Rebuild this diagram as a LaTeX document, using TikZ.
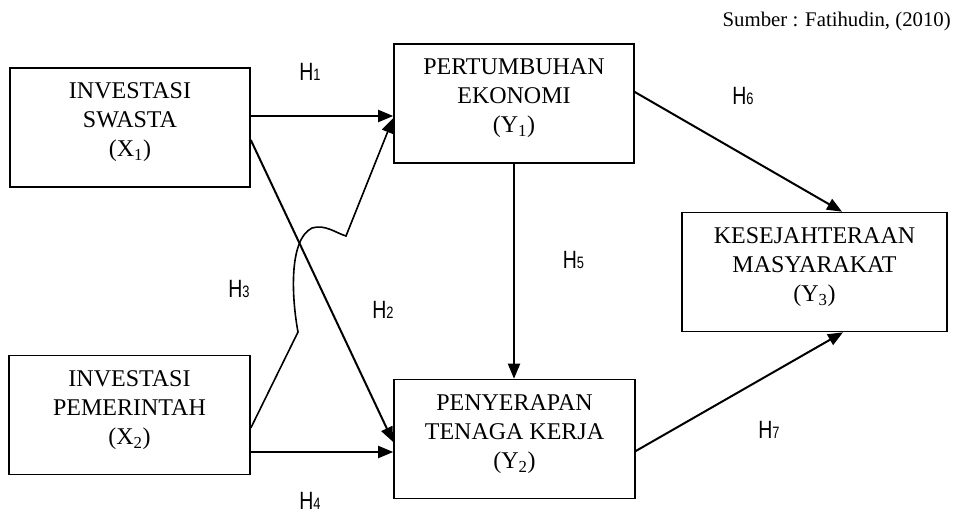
\documentclass[tikz,border=0pt]{standalone}
\usepackage{fontspec}
\usepackage{graphicx}
\setmainfont{Liberation Serif}
\newfontfamily\arialfont{Liberation Sans}
\usetikzlibrary{arrows.meta}
\newcommand\hlab[1]{\scalebox{0.78}[1]{\arialfont\fontsize{25}{25}\selectfont H{\fontsize{16.5}{16.5}\selectfont #1}}}
\tikzset{
  boxnode/.style={draw=black, line width=1.6pt, minimum width=#1, minimum height=119pt, inner sep=0pt},
  boxtext/.style={align=center, inner sep=0pt, font=\fontsize{24}{29}\selectfont},
  hnode/.style={inner sep=0pt},
  arr/.style={line width=2pt, -{Triangle[length=15pt,width=12pt]}},
  arrthin/.style={line width=1.6pt, -{Triangle[length=15pt,width=12pt]}}
}
\begin{document}
\begin{tikzpicture}[x=1pt,y=-1pt]
\useasboundingbox (0,0) rectangle (960,513);
% boxes
\node[boxnode=240pt] (x1) at (130,127.5) {};
\node[boxnode=241pt] (x2) at (129.5,415) {};
\node[boxnode=240pt] (y1) at (514,103.5) {};
\node[boxnode=241pt] (y2) at (514.5,439) {};
\node[boxnode=265pt] (y3) at (814.5,272) {};
% box texts
\node[boxtext] (x1t) at ([yshift=5pt]x1.center) {INVESTASI\\SWASTA\\(X\textsubscript{1})};
\node[boxtext] (x2t) at ([yshift=5pt]x2.center) {INVESTASI\\PEMERINTAH\\(X\textsubscript{2})};
\node[boxtext] (y1t) at ([yshift=5pt]y1.center) {PERTUMBUHAN\\EKONOMI\\(Y\textsubscript{1})};
\node[boxtext] (y2t) at ([yshift=5pt]y2.center) {PENYERAPAN\\TENAGA KERJA\\(Y\textsubscript{2})};
\node[boxtext] (y3t) at ([yshift=5pt]y3.center) {KESEJAHTERAAN\\MASYARAKAT\\(Y\textsubscript{3})};
% source
\node[anchor=base east, inner sep=0pt, font=\fontsize{20.8}{24}\selectfont] (src) at (951,27) {Sumber : Fatihudin, (2010)};
% connectors
\draw[arr] ([yshift=11.5pt]x1.east) -- ([yshift=11.5pt]x1.east -| y1.west);
\draw[arr] ([yshift=-12.5pt]x1.east) -- ([yshift=-3pt]y2.west);
\coordinate (k1) at (298,332);
\coordinate (k2) at (346,236);
\coordinate (k3) at (312,228);
\draw[arrthin] ([yshift=-13pt]x2.east) -- (k1)
   .. controls (292,300) and (288,240) .. (k3)
   .. controls (325,224) and (336,233) .. (k2)
   -- ([yshift=-14.5pt]y1.west);
\draw[arr] ([yshift=-37pt]x2.east) -- ([yshift=-37pt]x2.east -| y2.west);
\draw[arr] (y1.south) -- (y1.south |- y2.north);
\draw[arr] ([yshift=11.5pt]y1.east) -- ([xshift=27.5pt]y3.north);
\draw[arr] ([yshift=-12pt]y2.east) -- ([xshift=28.5pt]y3.south);
% labels
\node[hnode] (h1) at (310,72) {\hlab{1}};
\node[hnode] (h2) at (383,310) {\hlab{2}};
\node[hnode] (h3) at (239,289) {\hlab{3}};
\node[hnode] (h4) at (310,501) {\hlab{4}};
\node[hnode] (h5) at (573.5,260) {\hlab{5}};
\node[hnode] (h6) at (743,96) {\hlab{6}};
\node[hnode] (h7) at (769,430) {\hlab{7}};
\end{tikzpicture}
\end{document}
